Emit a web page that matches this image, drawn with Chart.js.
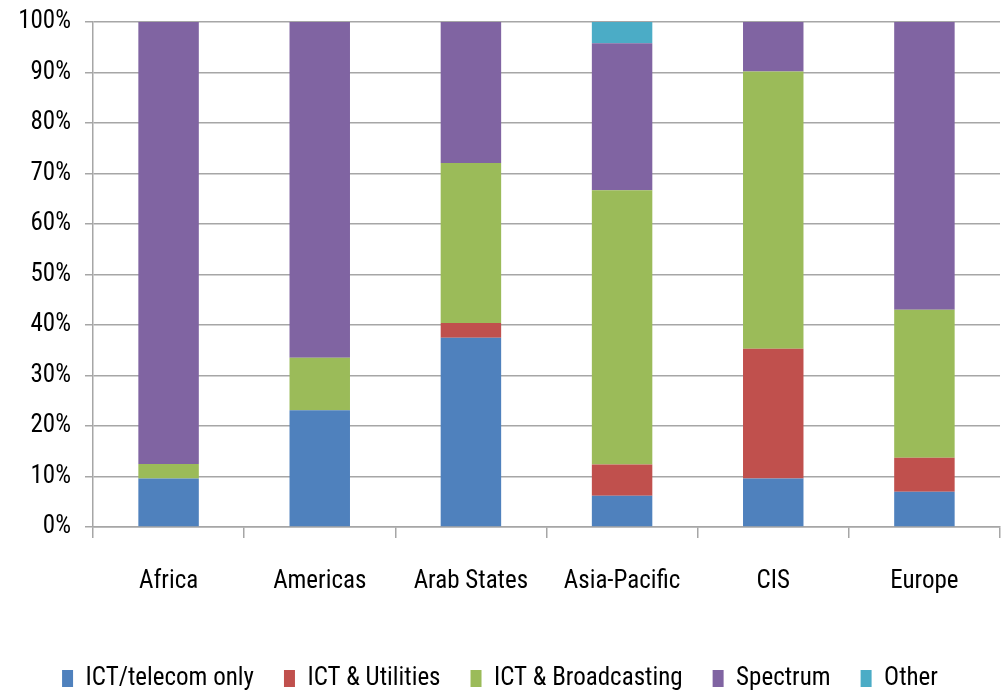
<!DOCTYPE html>
<html>
<head>
<meta charset="utf-8">
<script src="https://cdn.jsdelivr.net/npm/chart.js@4"></script>
<style>
	html, body { margin: 0; padding: 0; background: #fff; }
	#chart { display: block; }
</style>
</head>
<body>
<canvas id="chart" width="1005" height="690"></canvas>
<script>
const regions = ['Africa', 'Americas', 'Arab States', 'Asia-Pacific', 'CIS', 'Europe']
const telecomOnly = [9.6, 23.1, 37.5, 6.2, 9.6, 7.0]
const utilities = [0, 0, 2.9, 6.2, 25.7, 6.7]
const broadcasting = [2.9, 10.4, 31.7, 54.3, 54.9, 29.3]
const spectrum = [87.5, 66.5, 27.9, 29.1, 9.8, 57.0]
const other = [0, 0, 0, 4.2, 0, 0]

const fontFamily = "'Roboto Condensed', 'DejaVu Sans Condensed', sans-serif"
const gridColor = '#a6a6a6'

function makeChart() {
	const ctx = document.getElementById('chart')
	new Chart(ctx, {
		type: 'bar',
		data: {
			labels: regions,
			datasets: [
				{ label: 'ICT/telecom only', data: telecomOnly, backgroundColor: '#4f81bd' },
				{ label: 'ICT & Utilities', data: utilities, backgroundColor: '#c0504d' },
				{ label: 'ICT & Broadcasting', data: broadcasting, backgroundColor: '#9bbb59' },
				{ label: 'Spectrum', data: spectrum, backgroundColor: '#8064a2' },
				{ label: 'Other', data: other, backgroundColor: '#4bacc6' },
			],
		},
		options: {
			responsive: false,
			animation: false,
			devicePixelRatio: 1,
			barPercentage: 0.4,
			categoryPercentage: 1.0,
			layout: {
				padding: { top: 0, right: 5, left: 0, bottom: -11 },
			},
			scales: {
				x: {
					stacked: true,
					afterFit: scale => {
						scale.height += 10
					},
					grid: {
						offset: true,
						drawOnChartArea: false,
						drawTicks: true,
						tickLength: 11,
						color: gridColor,
						lineWidth: 1.5,
					},
					border: { display: true, color: gridColor, width: 1.5 },
					ticks: {
						color: '#000',
						padding: 29,
						font: { family: fontFamily, size: 25 },
					},
				},
				y: {
					stacked: true,
					min: 0,
					max: 100,
					afterFit: scale => {
						scale.width = 93
					},
					grid: {
						color: gridColor,
						lineWidth: 1.5,
						tickLength: 8,
					},
					border: { display: true, color: gridColor, width: 1.5 },
					ticks: {
						stepSize: 10,
						color: '#000',
						padding: 14,
						font: { family: fontFamily, size: 25, lineHeight: 0.64 },
						callback: v => v + '%',
					},
				},
			},
			plugins: {
				legend: {
					position: 'bottom',
					labels: {
						boxWidth: 11,
						boxHeight: 17,
						padding: 30,
						color: '#000',
						font: { family: fontFamily, size: 25 },
					},
				},
				tooltip: { enabled: false },
			},
		},
	})
}
makeChart()
</script>
</body>
</html>
